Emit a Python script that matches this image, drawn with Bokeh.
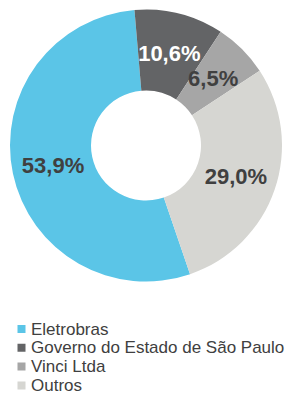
import math
from bokeh.plotting import figure
from bokeh.models import Range1d, ColumnDataSource
from bokeh.core.properties import value
from bokeh.embed import file_html
from bokeh.resources import INLINE

# ---- data ----
categories = ["Eletrobras", "Governo do Estado de São Paulo", "Vinci Ltda", "Outros"]
shares = [53.9, 10.6, 6.5, 29.0]
labels = ["53,9%", "10,6%", "6,5%", "29,0%"]
colors = ["#5BC5E7", "#636466", "#A6A6A6", "#D6D6D2"]
label_colors = ["#404040", "#FFFFFF", "#404040", "#404040"]

# ---- layout ----
W, H = 289, 395
cx, cy = 145.5, H - 145.0
r_out, r_in = 136.0, 55.0
r_lab = 95.0
start_deg = 161.1  # clockwise from 12 o'clock

total = sum(shares)
starts, ends, lx, ly = [], [], [], []
acc = start_deg
for s in shares:
    a0 = acc
    a1 = acc + s / total * 360.0
    starts.append(math.radians(90 - a0))
    ends.append(math.radians(90 - a1))
    mid = math.radians(90 - (a0 + a1) / 2)
    lx.append(cx + r_lab * math.cos(mid))
    ly.append(cy + r_lab * math.sin(mid))
    acc = a1

src = ColumnDataSource(dict(cat=categories, start=starts, end=ends, color=colors,
                            lx=lx, ly=ly, lab=labels, lc=label_colors))

p = figure(width=W, height=H, output_backend="svg", toolbar_location=None,
           x_range=Range1d(0, W), y_range=Range1d(0, H), min_border=0)
p.axis.visible = False
p.grid.visible = False
p.outline_line_color = None
p.background_fill_color = "white"
p.border_fill_color = "white"

p.annular_wedge(x=cx, y=cy, inner_radius=r_in, outer_radius=r_out,
                start_angle="start", end_angle="end", direction="clock",
                fill_color="color", line_color=None, source=src)

p.text(x="lx", y="ly", text="lab", text_color="lc", source=src,
       text_font=value("Liberation Sans"), text_font_style="bold",
       text_font_size="22px", text_align="center", text_baseline="middle")

# legend
leg_y0 = H - 328.5
leg_dy = 18.8
rows = list(range(len(categories)))
ly_leg = [leg_y0 - i * leg_dy for i in rows]
lsrc = ColumnDataSource(dict(y=ly_leg, x=[21.0] * len(rows), tx=[30.5] * len(rows),
                             cat=categories, color=colors))
p.rect(x="x", y="y", width=8, height=8, fill_color="color", line_color=None, source=lsrc)
p.text(x="tx", y="y", text="cat", source=lsrc, text_color="#404040",
       text_font=value("Liberation Sans"), text_font_size="17px",
       text_align="left", text_baseline="middle")

open("out.html", "w").write(file_html(p, INLINE))
